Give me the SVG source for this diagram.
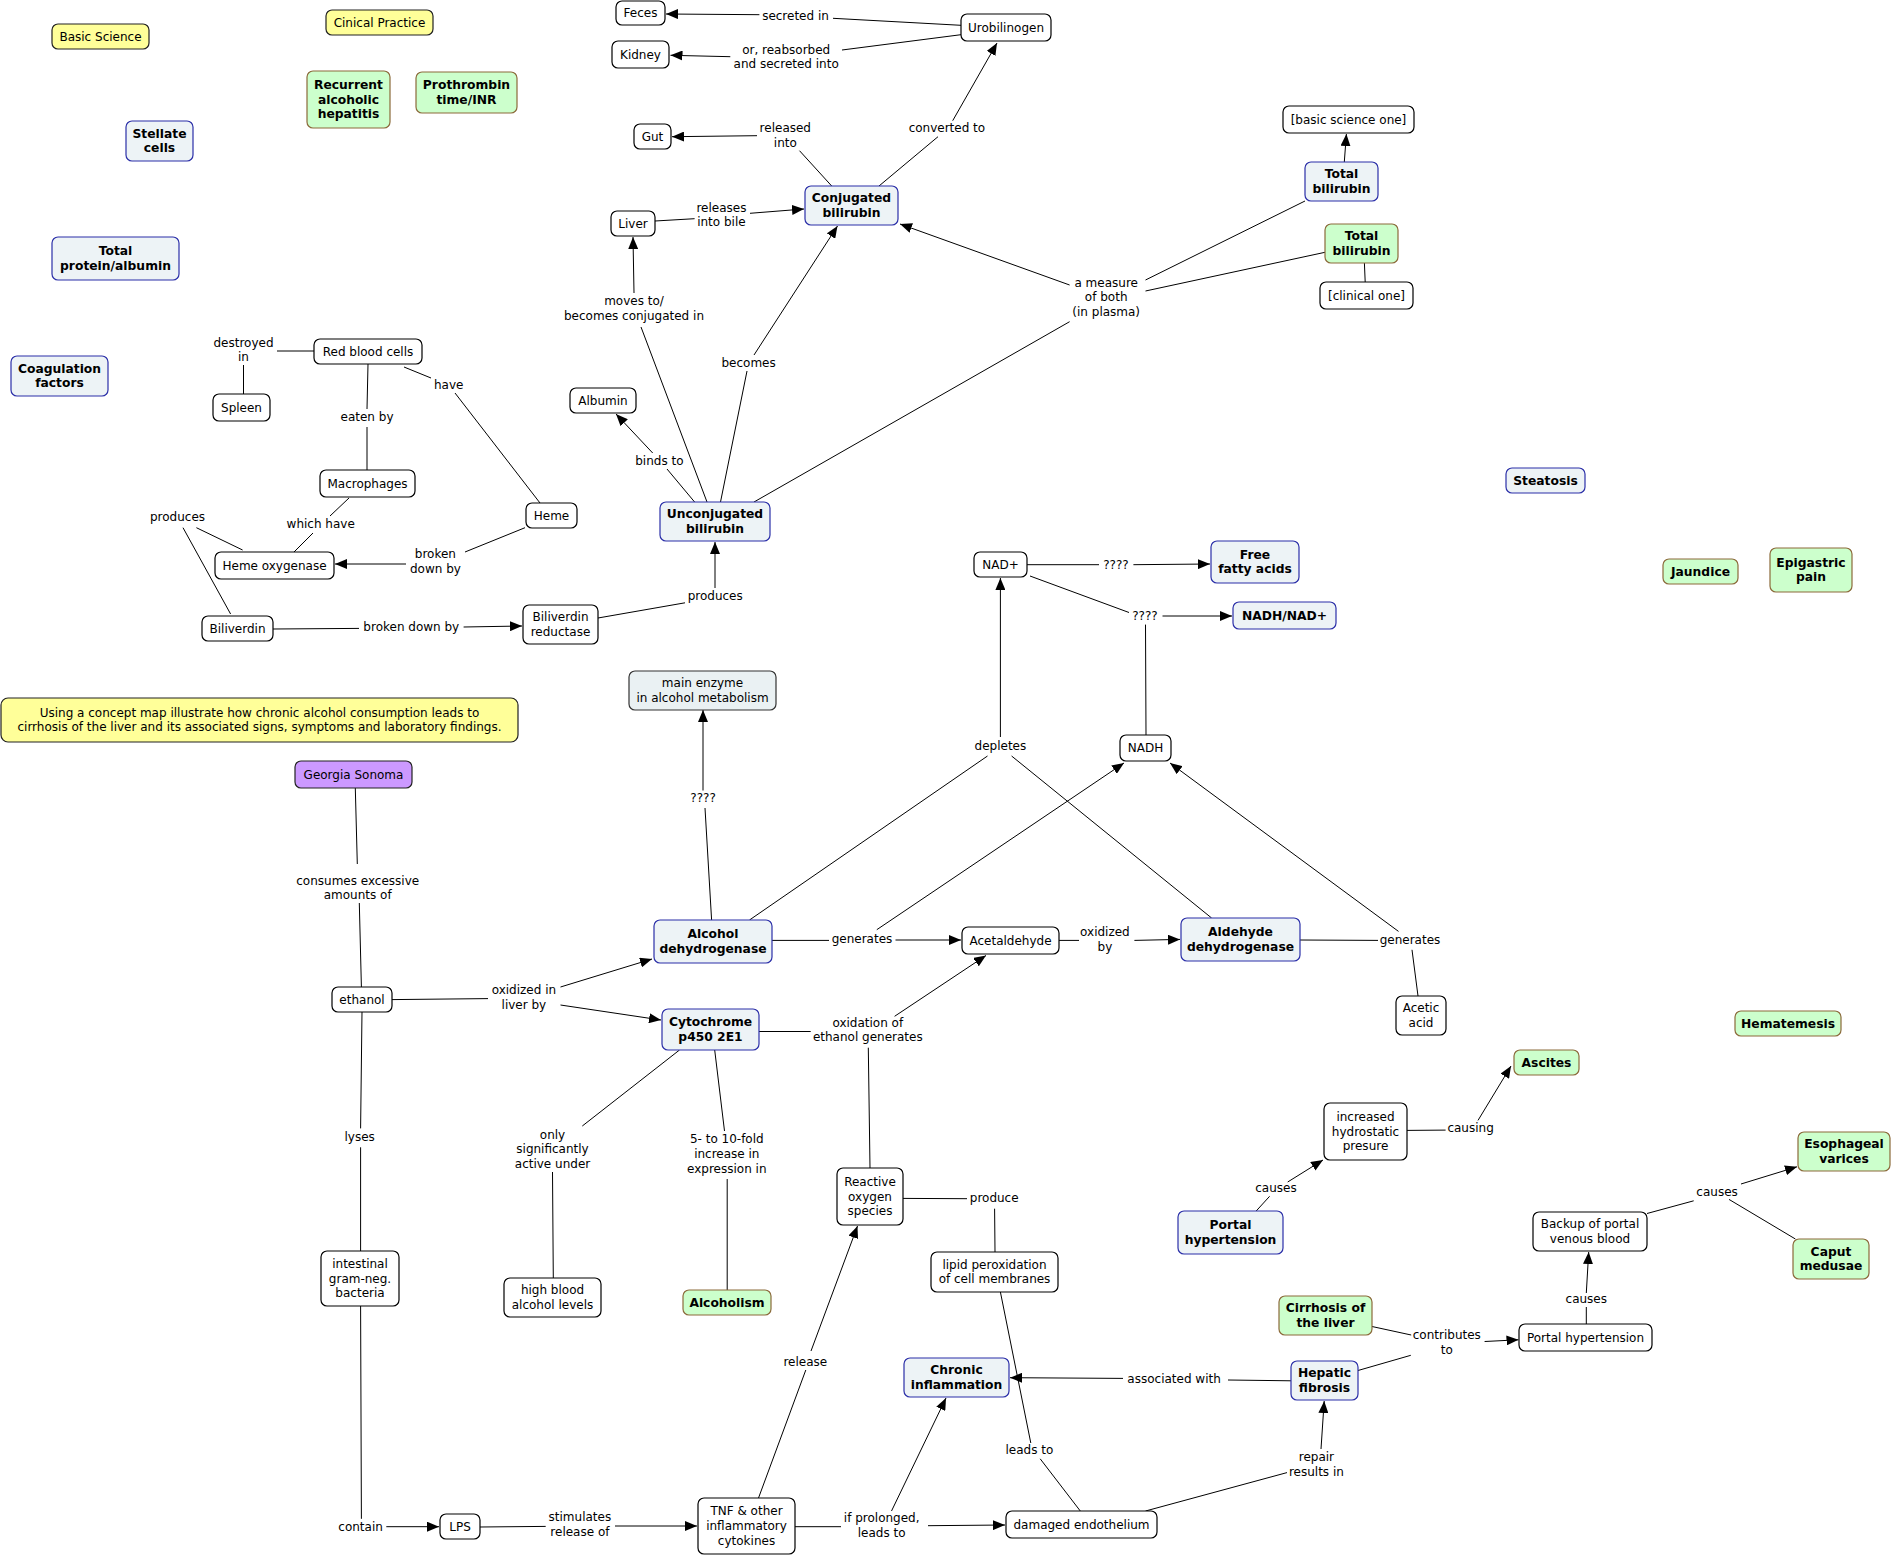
<svg xmlns="http://www.w3.org/2000/svg" width="1893" height="1558" viewBox="0 0 1893 1558">
<style>
rect{stroke-width:1.2}
.n{fill:#fff;stroke:#000}
.b{fill:#edf3f6;stroke:#2b2fa8}
.g{fill:#ccffcc;stroke:#8b6a3a}
.y{fill:#ffff99;stroke:#222}
.p{fill:#cc99ff;stroke:#222}
.m{fill:#eaf1f3;stroke:#333}
text{font-family:"DejaVu Sans",Verdana,sans-serif;font-size:12px;text-anchor:middle;dominant-baseline:central;fill:#000}
.k{font-weight:bold;font-size:12.3px}
#connectors line{stroke:#000;stroke-width:1}
#connectors line.a{marker-end:url(#arr)}
</style>
<defs>
<marker id="arr" markerUnits="userSpaceOnUse" viewBox="0 0 12 10" markerWidth="12" markerHeight="10" refX="12" refY="5" orient="auto">
<path d="M0,0 L12,5 L0,10 z" fill="#000"/>
</marker>
</defs>
<rect width="1893" height="1558" fill="#fff"/>
<g id="connectors">
<line x1="277" y1="351" x2="314" y2="351"/>
<line x1="243.5" y1="365" x2="243.5" y2="394"/>
<line x1="404" y1="367" x2="431" y2="378"/>
<line x1="455" y1="393" x2="540" y2="503"/>
<line x1="368" y1="364" x2="367" y2="409"/>
<line x1="367" y1="427" x2="367" y2="470"/>
<line x1="349" y1="498" x2="330" y2="516"/>
<line x1="313" y1="533" x2="294" y2="552"/>
<line x1="242.6" y1="550" x2="196.4" y2="527.7"/>
<line x1="183" y1="527.7" x2="230.6" y2="614"/>
<line x1="525" y1="527.7" x2="465" y2="552"/>
<line class="a" x1="406" y1="564" x2="335" y2="564"/>
<line x1="273" y1="629" x2="359" y2="628.4"/>
<line class="a" x1="463.6" y1="627" x2="522" y2="626"/>
<line x1="598" y1="618" x2="685" y2="602.8"/>
<line class="a" x1="715" y1="588" x2="715" y2="542"/>
<line x1="694.6" y1="502" x2="667" y2="469"/>
<line class="a" x1="652.7" y1="453" x2="616" y2="414"/>
<line x1="720.5" y1="502" x2="747" y2="371"/>
<line class="a" x1="754" y1="355" x2="837.5" y2="226"/>
<line x1="707" y1="502" x2="641" y2="327"/>
<line class="a" x1="634" y1="293" x2="633" y2="237"/>
<line x1="655" y1="221" x2="694.6" y2="218.7"/>
<line class="a" x1="750" y1="213.3" x2="804" y2="209"/>
<line x1="831.7" y1="186" x2="799.5" y2="150.7"/>
<line class="a" x1="757" y1="135.7" x2="672" y2="136.7"/>
<line x1="879" y1="186" x2="938" y2="136.7"/>
<line class="a" x1="952.7" y1="120.7" x2="997" y2="43"/>
<line x1="961" y1="25.3" x2="833" y2="18.3"/>
<line class="a" x1="759.4" y1="14.7" x2="666" y2="14"/>
<line x1="961" y1="34.7" x2="842" y2="50"/>
<line class="a" x1="730.3" y1="56.7" x2="670.5" y2="55.3"/>
<line x1="754" y1="502" x2="1069.6" y2="321.7"/>
<line class="a" x1="1069.6" y1="285" x2="900" y2="224"/>
<line x1="1145.5" y1="280" x2="1305" y2="201"/>
<line x1="1145.5" y1="291" x2="1325" y2="252.3"/>
<line class="a" x1="1344.3" y1="162" x2="1346.4" y2="134"/>
<line x1="1364.4" y1="263" x2="1365.2" y2="282"/>
<line x1="355.3" y1="788" x2="357.3" y2="864"/>
<line x1="359.3" y1="903" x2="361.4" y2="987"/>
<line x1="392" y1="999.6" x2="488" y2="998.6"/>
<line class="a" x1="560.5" y1="987" x2="652" y2="959"/>
<line class="a" x1="560.5" y1="1005" x2="661" y2="1020"/>
<line x1="711.6" y1="920" x2="705" y2="808"/>
<line class="a" x1="703" y1="790.5" x2="703" y2="710"/>
<line x1="749.5" y1="920" x2="987.5" y2="756"/>
<line x1="1211.6" y1="918" x2="1011.6" y2="756"/>
<line class="a" x1="1000.4" y1="737" x2="1000.4" y2="578"/>
<line x1="1027" y1="564.7" x2="1099" y2="564.7"/>
<line class="a" x1="1133.4" y1="564.7" x2="1210" y2="564"/>
<line x1="1030" y1="576" x2="1129" y2="612.5"/>
<line x1="1146" y1="735" x2="1145.5" y2="624.6"/>
<line class="a" x1="1162.5" y1="616" x2="1232" y2="616"/>
<line x1="772" y1="940.4" x2="829" y2="940.4"/>
<line class="a" x1="895.5" y1="940" x2="961" y2="940"/>
<line class="a" x1="876.8" y1="929.7" x2="1124" y2="763"/>
<line x1="1059" y1="940.4" x2="1079" y2="940.4"/>
<line class="a" x1="1134.4" y1="940.4" x2="1180" y2="939.4"/>
<line x1="1300" y1="940" x2="1378" y2="940.4"/>
<line class="a" x1="1398.5" y1="931.4" x2="1170" y2="763"/>
<line x1="1412" y1="949.8" x2="1418" y2="996"/>
<line x1="759" y1="1031.5" x2="810.7" y2="1031.5"/>
<line class="a" x1="894.6" y1="1016.3" x2="986" y2="955.5"/>
<line x1="868.3" y1="1047.7" x2="870" y2="1168"/>
<line x1="679.5" y1="1050" x2="582.3" y2="1126"/>
<line x1="552.5" y1="1172" x2="553.3" y2="1278"/>
<line x1="714.7" y1="1050" x2="724.5" y2="1131"/>
<line x1="727.2" y1="1179" x2="727.2" y2="1290"/>
<line x1="362" y1="1012" x2="360.6" y2="1128.4"/>
<line x1="360.6" y1="1147.3" x2="360.6" y2="1251"/>
<line x1="360.6" y1="1306" x2="361.4" y2="1518.8"/>
<line class="a" x1="386.3" y1="1526.7" x2="439" y2="1526.7"/>
<line x1="480" y1="1527" x2="545.7" y2="1526.4"/>
<line class="a" x1="615" y1="1526" x2="697" y2="1526"/>
<line x1="758.5" y1="1498" x2="805.8" y2="1370"/>
<line class="a" x1="811" y1="1351" x2="857.5" y2="1226"/>
<line x1="903" y1="1198.4" x2="967" y2="1198.7"/>
<line x1="994.6" y1="1208.7" x2="995" y2="1252"/>
<line x1="1000.4" y1="1292" x2="1030.8" y2="1443"/>
<line x1="1040.2" y1="1458.8" x2="1080.3" y2="1511"/>
<line x1="795" y1="1526.7" x2="841" y2="1526.7"/>
<line class="a" x1="928" y1="1525.7" x2="1005" y2="1525"/>
<line class="a" x1="891.5" y1="1511" x2="946" y2="1398"/>
<line x1="1145.5" y1="1511" x2="1287" y2="1472.6"/>
<line class="a" x1="1321" y1="1449" x2="1324.2" y2="1401"/>
<line x1="1291" y1="1380.8" x2="1228" y2="1380"/>
<line class="a" x1="1123" y1="1378.4" x2="1010" y2="1377.7"/>
<line x1="1358" y1="1370.5" x2="1410.8" y2="1355.3"/>
<line x1="1372" y1="1326.5" x2="1411.2" y2="1335"/>
<line class="a" x1="1484.6" y1="1341.5" x2="1518.5" y2="1339.8"/>
<line x1="1586.3" y1="1324" x2="1586.3" y2="1307"/>
<line class="a" x1="1586.3" y1="1293" x2="1588.7" y2="1252"/>
<line x1="1647" y1="1213.5" x2="1693.7" y2="1200.8"/>
<line class="a" x1="1741" y1="1184" x2="1797" y2="1166.8"/>
<line x1="1729" y1="1199.4" x2="1795.4" y2="1239"/>
<line x1="1256.2" y1="1211" x2="1269.6" y2="1196.3"/>
<line class="a" x1="1287.7" y1="1182" x2="1323" y2="1160"/>
<line x1="1407" y1="1130.4" x2="1445.6" y2="1130.1"/>
<line class="a" x1="1478" y1="1120.4" x2="1511" y2="1066"/>
<text x="243.5" y="342.7">destroyed</text><text x="243.5" y="357.3">in</text>
<text x="448.7" y="385">have</text>
<text x="367" y="416.7">eaten by</text>
<text x="177.5" y="517">produces</text>
<text x="320.7" y="524">which have</text>
<text x="435.4" y="554.4">broken</text><text x="435.4" y="568.9">down by</text>
<text x="411.3" y="626.7">broken down by</text>
<text x="715.2" y="595.5">produces</text>
<text x="659.4" y="461">binds to</text>
<text x="748.6" y="362.7">becomes</text>
<text x="634" y="301">moves to/</text><text x="634" y="315.7">becomes conjugated in</text>
<text x="721.4" y="208">releases</text><text x="721.4" y="222.3">into bile</text>
<text x="785.3" y="127.7">released</text><text x="785.3" y="142.7">into</text>
<text x="946.9" y="127.7">converted to</text>
<text x="795.5" y="15.7">secreted in</text>
<text x="786.2" y="50">or, reabsorbed</text><text x="786.2" y="64.3">and secreted into</text>
<text x="1106.2" y="283">a measure</text><text x="1106.2" y="297">of both</text><text x="1106.2" y="311.7">(in plasma)</text>
<text x="357.7" y="880.5">consumes excessive</text><text x="357.7" y="895.4">amounts of</text>
<text x="523.9" y="990">oxidized in</text><text x="523.9" y="1005.2">liver by</text>
<text x="703.1" y="797.8">????</text>
<text x="1000.4" y="745.5">depletes</text>
<text x="1116" y="564.7">????</text>
<text x="1145" y="616">????</text>
<text x="862" y="938.7">generates</text>
<text x="1104.9" y="932.1">oxidized</text><text x="1104.9" y="947.4">by</text>
<text x="1410" y="939.7">generates</text>
<text x="867.8" y="1022.5">oxidation of</text><text x="867.8" y="1037">ethanol generates</text>
<text x="359.7" y="1136.6">lyses</text>
<text x="360.6" y="1527.4">contain</text>
<text x="579.9" y="1517.4">stimulates</text><text x="579.9" y="1531.9">release of</text>
<text x="552.5" y="1134.6">only</text><text x="552.5" y="1149.4">significantly</text><text x="552.5" y="1164.2">active under</text>
<text x="726.8" y="1139.4">5- to 10-fold</text><text x="726.8" y="1154.2">increase in</text><text x="726.8" y="1169.1">expression in</text>
<text x="994.2" y="1198">produce</text>
<text x="805.3" y="1361.5">release</text>
<text x="1029.4" y="1450.2">leads to</text>
<text x="881.7" y="1518.1">if prolonged,</text><text x="881.7" y="1533.3">leads to</text>
<text x="1174.1" y="1378.8">associated with</text>
<text x="1316.4" y="1457">repair</text><text x="1316.4" y="1471.5">results in</text>
<text x="1276" y="1188.4">causes</text>
<text x="1470.6" y="1128.4">causing</text>
<text x="1717.1" y="1191.5">causes</text>
<text x="1586.3" y="1299.4">causes</text>
<text x="1446.8" y="1335.3">contributes</text><text x="1446.8" y="1350.1">to</text>
</g>
<g id="n-feces"><rect class="n" x="616" y="1" width="49" height="24" rx="6"/><text x="640.5" y="13">Feces</text></g>
<g id="n-kidney"><rect class="n" x="612" y="41" width="57" height="27" rx="6"/><text x="640.5" y="54.5">Kidney</text></g>
<g id="n-urobilinogen"><rect class="n" x="961" y="14" width="90" height="27" rx="6"/><text x="1006" y="27.5">Urobilinogen</text></g>
<g id="n-gut"><rect class="n" x="634" y="124" width="37" height="25" rx="6"/><text x="652.5" y="136.5">Gut</text></g>
<g id="n-liver"><rect class="n" x="611" y="211" width="44" height="25" rx="6"/><text x="633" y="223.5">Liver</text></g>
<g id="n-basic-one"><rect class="n" x="1283" y="106" width="131" height="27" rx="6"/><text x="1348.5" y="119.5">[basic science one]</text></g>
<g id="n-clinical-one"><rect class="n" x="1320" y="282" width="93" height="27" rx="6"/><text x="1366.5" y="295.5">[clinical one]</text></g>
<g id="n-rbc"><rect class="n" x="314" y="339" width="108" height="25" rx="6"/><text x="368" y="351.5">Red blood cells</text></g>
<g id="n-spleen"><rect class="n" x="213" y="394" width="57" height="27" rx="6"/><text x="241.5" y="407.5">Spleen</text></g>
<g id="n-albumin"><rect class="n" x="570" y="388" width="66" height="25" rx="6"/><text x="603" y="400.5">Albumin</text></g>
<g id="n-macrophages"><rect class="n" x="320" y="470" width="95" height="27" rx="6"/><text x="367.5" y="483.5">Macrophages</text></g>
<g id="n-heme"><rect class="n" x="526" y="503" width="51" height="25" rx="6"/><text x="551.5" y="515.5">Heme</text></g>
<g id="n-heme-oxygenase"><rect class="n" x="215" y="552" width="119" height="27" rx="6"/><text x="274.5" y="565.5">Heme oxygenase</text></g>
<g id="n-biliverdin"><rect class="n" x="202" y="616" width="71" height="25" rx="6"/><text x="237.5" y="628.5">Biliverdin</text></g>
<g id="n-biliverdin-reductase"><rect class="n" x="523" y="605" width="75" height="39" rx="6"/><text x="560.5" y="617.2">Biliverdin</text><text x="560.5" y="631.8">reductase</text></g>
<g id="n-nadplus"><rect class="n" x="974" y="552" width="53" height="25" rx="6"/><text x="1000.5" y="564.5">NAD+</text></g>
<g id="n-nadh"><rect class="n" x="1120" y="735" width="51" height="26" rx="6"/><text x="1145.5" y="748">NADH</text></g>
<g id="n-acetaldehyde"><rect class="n" x="962" y="927" width="97" height="27" rx="6"/><text x="1010.5" y="940.5">Acetaldehyde</text></g>
<g id="n-acetic-acid"><rect class="n" x="1396" y="996" width="50" height="39" rx="6"/><text x="1421" y="1008.2">Acetic</text><text x="1421" y="1022.8">acid</text></g>
<g id="n-ethanol"><rect class="n" x="332" y="987" width="60" height="25" rx="6"/><text x="362" y="999.5">ethanol</text></g>
<g id="n-bacteria"><rect class="n" x="321" y="1251" width="78" height="55" rx="6"/><text x="360" y="1263.9">intestinal</text><text x="360" y="1278.5">gram-neg.</text><text x="360" y="1293.1">bacteria</text></g>
<g id="n-high-blood"><rect class="n" x="504" y="1278" width="97" height="39" rx="6"/><text x="552.5" y="1290.2">high blood</text><text x="552.5" y="1304.8">alcohol levels</text></g>
<g id="n-lps"><rect class="n" x="440" y="1514" width="40" height="25" rx="6"/><text x="460" y="1526.5">LPS</text></g>
<g id="n-tnf"><rect class="n" x="698" y="1498" width="97" height="56" rx="6"/><text x="746.5" y="1511.4">TNF &amp; other</text><text x="746.5" y="1526">inflammatory</text><text x="746.5" y="1540.6">cytokines</text></g>
<g id="n-ros"><rect class="n" x="837" y="1168" width="66" height="57" rx="6"/><text x="870" y="1181.9">Reactive</text><text x="870" y="1196.5">oxygen</text><text x="870" y="1211.1">species</text></g>
<g id="n-lipid"><rect class="n" x="931" y="1252" width="127" height="40" rx="6"/><text x="994.5" y="1264.7">lipid peroxidation</text><text x="994.5" y="1279.3">of cell membranes</text></g>
<g id="n-damaged"><rect class="n" x="1006" y="1511" width="151" height="27" rx="6"/><text x="1081.5" y="1524.5">damaged endothelium</text></g>
<g id="n-hydrostatic"><rect class="n" x="1324" y="1103" width="83" height="57" rx="6"/><text x="1365.5" y="1116.9">increased</text><text x="1365.5" y="1131.5">hydrostatic</text><text x="1365.5" y="1146.1">presure</text></g>
<g id="n-backup"><rect class="n" x="1533" y="1212" width="114" height="39" rx="6"/><text x="1590" y="1224.2">Backup of portal</text><text x="1590" y="1238.8">venous blood</text></g>
<g id="n-portal-ht"><rect class="n" x="1519" y="1324" width="133" height="27" rx="6"/><text x="1585.5" y="1337.5">Portal hypertension</text></g>
<g id="n-stellate"><rect class="b" x="126" y="121" width="67" height="40" rx="6"/><text class="k" x="159.5" y="133.7">Stellate</text><text class="k" x="159.5" y="148.3">cells</text></g>
<g id="n-total-protein"><rect class="b" x="52" y="237" width="127" height="43" rx="6"/><text class="k" x="115.5" y="251.2">Total</text><text class="k" x="115.5" y="265.8">protein/albumin</text></g>
<g id="n-coagulation"><rect class="b" x="11" y="356" width="97" height="40" rx="6"/><text class="k" x="59.5" y="368.7">Coagulation</text><text class="k" x="59.5" y="383.3">factors</text></g>
<g id="n-conjugated"><rect class="b" x="805" y="186" width="93" height="39" rx="6"/><text class="k" x="851.5" y="198.2">Conjugated</text><text class="k" x="851.5" y="212.8">bilirubin</text></g>
<g id="n-total-bili-basic"><rect class="b" x="1305" y="162" width="73" height="39" rx="6"/><text class="k" x="1341.5" y="174.2">Total</text><text class="k" x="1341.5" y="188.8">bilirubin</text></g>
<g id="n-unconjugated"><rect class="b" x="660" y="502" width="110" height="39" rx="6"/><text class="k" x="715" y="514.2">Unconjugated</text><text class="k" x="715" y="528.8">bilirubin</text></g>
<g id="n-steatosis"><rect class="b" x="1506" y="468" width="79" height="25" rx="6"/><text class="k" x="1545.5" y="480.5">Steatosis</text></g>
<g id="n-ffa"><rect class="b" x="1211" y="541" width="88" height="42" rx="6"/><text class="k" x="1255" y="554.7">Free</text><text class="k" x="1255" y="569.3">fatty acids</text></g>
<g id="n-nadh-nad"><rect class="b" x="1233" y="602" width="103" height="27" rx="6"/><text class="k" x="1284.5" y="615.5">NADH/NAD+</text></g>
<g id="n-adh"><rect class="b" x="654" y="920" width="118" height="43" rx="6"/><text class="k" x="713" y="934.2">Alcohol</text><text class="k" x="713" y="948.8">dehydrogenase</text></g>
<g id="n-aldh"><rect class="b" x="1181" y="918" width="119" height="43" rx="6"/><text class="k" x="1240.5" y="932.2">Aldehyde</text><text class="k" x="1240.5" y="946.8">dehydrogenase</text></g>
<g id="n-cyp"><rect class="b" x="662" y="1009" width="97" height="41" rx="6"/><text class="k" x="710.5" y="1022.2">Cytochrome</text><text class="k" x="710.5" y="1036.8">p450 2E1</text></g>
<g id="n-chronic"><rect class="b" x="904" y="1358" width="105" height="39" rx="6"/><text class="k" x="956.5" y="1370.2">Chronic</text><text class="k" x="956.5" y="1384.8">inflammation</text></g>
<g id="n-portal-ht-basic"><rect class="b" x="1178" y="1211" width="105" height="43" rx="6"/><text class="k" x="1230.5" y="1225.2">Portal</text><text class="k" x="1230.5" y="1239.8">hypertension</text></g>
<g id="n-hepatic-fibrosis"><rect class="b" x="1291" y="1361" width="67" height="39" rx="6"/><text class="k" x="1324.5" y="1373.2">Hepatic</text><text class="k" x="1324.5" y="1387.8">fibrosis</text></g>
<g id="n-recurrent"><rect class="g" x="307" y="71" width="83" height="57" rx="6"/><text class="k" x="348.5" y="84.9">Recurrent</text><text class="k" x="348.5" y="99.5">alcoholic</text><text class="k" x="348.5" y="114.1">hepatitis</text></g>
<g id="n-prothrombin"><rect class="g" x="416" y="72" width="101" height="41" rx="6"/><text class="k" x="466.5" y="85.2">Prothrombin</text><text class="k" x="466.5" y="99.8">time/INR</text></g>
<g id="n-total-bili-clinical"><rect class="g" x="1325" y="224" width="73" height="39" rx="6"/><text class="k" x="1361.5" y="236.2">Total</text><text class="k" x="1361.5" y="250.8">bilirubin</text></g>
<g id="n-jaundice"><rect class="g" x="1663" y="559" width="75" height="25" rx="6"/><text class="k" x="1700.5" y="571.5">Jaundice</text></g>
<g id="n-epigastric"><rect class="g" x="1770" y="548" width="82" height="44" rx="6"/><text class="k" x="1811" y="562.7">Epigastric</text><text class="k" x="1811" y="577.3">pain</text></g>
<g id="n-hematemesis"><rect class="g" x="1735" y="1011" width="106" height="25" rx="6"/><text class="k" x="1788" y="1023.5">Hematemesis</text></g>
<g id="n-alcoholism"><rect class="g" x="683" y="1290" width="88" height="25" rx="6"/><text class="k" x="727" y="1302.5">Alcoholism</text></g>
<g id="n-ascites"><rect class="g" x="1514" y="1050" width="65" height="25" rx="6"/><text class="k" x="1546.5" y="1062.5">Ascites</text></g>
<g id="n-esophageal"><rect class="g" x="1798" y="1132" width="92" height="39" rx="6"/><text class="k" x="1844" y="1144.2">Esophageal</text><text class="k" x="1844" y="1158.8">varices</text></g>
<g id="n-caput"><rect class="g" x="1793" y="1239" width="76" height="40" rx="6"/><text class="k" x="1831" y="1251.7">Caput</text><text class="k" x="1831" y="1266.3">medusae</text></g>
<g id="n-cirrhosis"><rect class="g" x="1279" y="1296" width="93" height="39" rx="6"/><text class="k" x="1325.5" y="1308.2">Cirrhosis of</text><text class="k" x="1325.5" y="1322.8">the liver</text></g>
<g id="n-basic-science"><rect class="y" x="52" y="24" width="97" height="25" rx="6"/><text x="100.5" y="36.5">Basic Science</text></g>
<g id="n-clinical-practice"><rect class="y" x="326" y="10" width="107" height="25" rx="6"/><text x="379.5" y="22.5">Cinical Practice</text></g>
<g id="n-question"><rect class="y" x="1" y="698" width="517" height="44" rx="7"/><text x="259.5" y="712.7">Using a concept map illustrate how chronic alcohol consumption leads to</text><text x="259.5" y="727.3">cirrhosis of the liver and its associated signs, symptoms and laboratory findings.</text></g>
<g id="n-georgia"><rect class="p" x="295" y="761" width="117" height="27" rx="6"/><text x="353.5" y="774.5">Georgia Sonoma</text></g>
<g id="n-main-enzyme"><rect class="m" x="629" y="671" width="147" height="39" rx="6"/><text x="702.5" y="683.2">main enzyme</text><text x="702.5" y="697.8">in alcohol metabolism</text></g>
</svg>
